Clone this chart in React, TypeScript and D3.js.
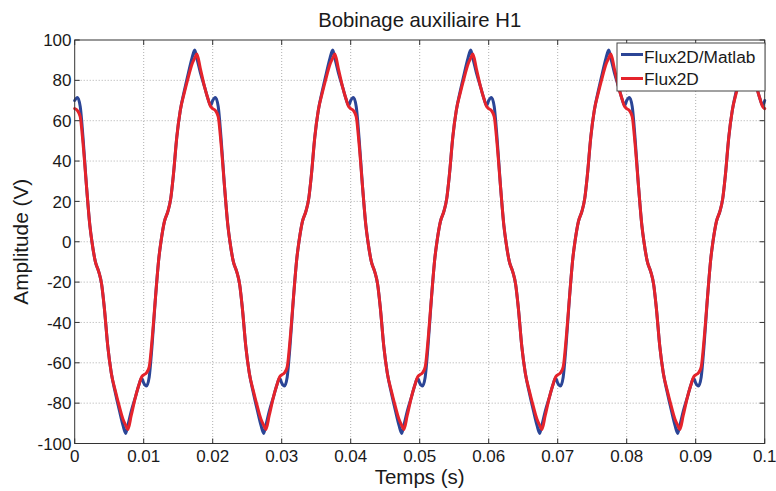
import React from "react";
import * as d3 from "d3";

const W = 776;
const H = 491;
const margin = { left: 74.7, right: 11.3, top: 40, bottom: 47.5 };

const titleText = "Bobinage auxiliaire H1";
const xLabelText = "Temps (s)";
const yLabelText = "Amplitude (V)";
const legendLabels = ["Flux2D/Matlab", "Flux2D"];

const xTicks = [0, 0.01, 0.02, 0.03, 0.04, 0.05, 0.06, 0.07, 0.08, 0.09, 0.1];
const xTickLabels = ["0", "0.01", "0.02", "0.03", "0.04", "0.05", "0.06", "0.07", "0.08", "0.09", "0.1"];
const yTicks = [100, 80, 60, 40, 20, 0, -20, -40, -60, -80, -100];

// time in milliseconds
const timeMs = [
  0, 0.4, 0.8, 1.2, 1.7, 2.2, 2.5, 3, 3.5, 3.9, 4.3, 4.8, 5.3, 5.9, 6.5, 7, 7.4, 7.7, 8.2, 8.8, 9.3, 9.7,
  10, 10.4, 10.8, 11.2, 11.7, 12.2, 12.5, 13, 13.5, 13.9, 14.3, 14.8, 15.3, 15.9, 16.5, 17, 17.4, 17.7, 18.2, 18.8, 19.3, 19.7,
  20, 20.4, 20.8, 21.2, 21.7, 22.2, 22.5, 23, 23.5, 23.9, 24.3, 24.8, 25.3, 25.9, 26.5, 27, 27.4, 27.7, 28.2, 28.8, 29.3, 29.7,
  30, 30.4, 30.8, 31.2, 31.7, 32.2, 32.5, 33, 33.5, 33.9, 34.3, 34.8, 35.3, 35.9, 36.5, 37, 37.4, 37.7, 38.2, 38.8, 39.3, 39.7,
  40, 40.4, 40.8, 41.2, 41.7, 42.2, 42.5, 43, 43.5, 43.9, 44.3, 44.8, 45.3, 45.9, 46.5, 47, 47.4, 47.7, 48.2, 48.8, 49.3, 49.7,
  50, 50.4, 50.8, 51.2, 51.7, 52.2, 52.5, 53, 53.5, 53.9, 54.3, 54.8, 55.3, 55.9, 56.5, 57, 57.4, 57.7, 58.2, 58.8, 59.3, 59.7,
  60, 60.4, 60.8, 61.2, 61.7, 62.2, 62.5, 63, 63.5, 63.9, 64.3, 64.8, 65.3, 65.9, 66.5, 67, 67.4, 67.7, 68.2, 68.8, 69.3, 69.7,
  70, 70.4, 70.8, 71.2, 71.7, 72.2, 72.5, 73, 73.5, 73.9, 74.3, 74.8, 75.3, 75.9, 76.5, 77, 77.4, 77.7, 78.2, 78.8, 79.3, 79.7,
  80, 80.4, 80.8, 81.2, 81.7, 82.2, 82.5, 83, 83.5, 83.9, 84.3, 84.8, 85.3, 85.9, 86.5, 87, 87.4, 87.7, 88.2, 88.8, 89.3, 89.7,
  90, 90.4, 90.8, 91.2, 91.7, 92.2, 92.5, 93, 93.5, 93.9, 94.3, 94.8, 95.3, 95.9, 96.5, 97, 97.4, 97.7, 98.2, 98.8, 99.3, 99.7,
  100,
];

const matlabValues = [
  70, 71.5, 67, 52, 28, 8, 0, -10, -15, -21, -33, -52, -65, -75, -84, -91, -95, -91, -84, -77, -71, -67.5,
  -70, -71.5, -67, -52, -28, -8, 0, 10, 15, 21, 33, 52, 65, 75, 84, 91, 95, 91, 84, 77, 71, 67.5,
  70, 71.5, 67, 52, 28, 8, 0, -10, -15, -21, -33, -52, -65, -75, -84, -91, -95, -91, -84, -77, -71, -67.5,
  -70, -71.5, -67, -52, -28, -8, 0, 10, 15, 21, 33, 52, 65, 75, 84, 91, 95, 91, 84, 77, 71, 67.5,
  70, 71.5, 67, 52, 28, 8, 0, -10, -15, -21, -33, -52, -65, -75, -84, -91, -95, -91, -84, -77, -71, -67.5,
  -70, -71.5, -67, -52, -28, -8, 0, 10, 15, 21, 33, 52, 65, 75, 84, 91, 95, 91, 84, 77, 71, 67.5,
  70, 71.5, 67, 52, 28, 8, 0, -10, -15, -21, -33, -52, -65, -75, -84, -91, -95, -91, -84, -77, -71, -67.5,
  -70, -71.5, -67, -52, -28, -8, 0, 10, 15, 21, 33, 52, 65, 75, 84, 91, 95, 91, 84, 77, 71, 67.5,
  70, 71.5, 67, 52, 28, 8, 0, -10, -15, -21, -33, -52, -65, -75, -84, -91, -95, -91, -84, -77, -71, -67.5,
  -70, -71.5, -67, -52, -28, -8, 0, 10, 15, 21, 33, 52, 65, 75, 84, 91, 95, 91, 84, 77, 71, 67.5,
  70,
];

const flux2dValues = [
  66, 65, 62, 49, 28, 8, 0, -10, -15, -21, -33, -52, -65, -74, -82, -88, -91, -93, -86, -77, -71, -67,
  -66, -65, -62, -49, -28, -8, 0, 10, 15, 21, 33, 52, 65, 74, 82, 88, 91, 93, 86, 77, 71, 67,
  66, 65, 62, 49, 28, 8, 0, -10, -15, -21, -33, -52, -65, -74, -82, -88, -91, -93, -86, -77, -71, -67,
  -66, -65, -62, -49, -28, -8, 0, 10, 15, 21, 33, 52, 65, 74, 82, 88, 91, 93, 86, 77, 71, 67,
  66, 65, 62, 49, 28, 8, 0, -10, -15, -21, -33, -52, -65, -74, -82, -88, -91, -93, -86, -77, -71, -67,
  -66, -65, -62, -49, -28, -8, 0, 10, 15, 21, 33, 52, 65, 74, 82, 88, 91, 93, 86, 77, 71, 67,
  66, 65, 62, 49, 28, 8, 0, -10, -15, -21, -33, -52, -65, -74, -82, -88, -91, -93, -86, -77, -71, -67,
  -66, -65, -62, -49, -28, -8, 0, 10, 15, 21, 33, 52, 65, 74, 82, 88, 91, 93, 86, 77, 71, 67,
  66, 65, 62, 49, 28, 8, 0, -10, -15, -21, -33, -52, -65, -74, -82, -88, -91, -93, -86, -77, -71, -67,
  -66, -65, -62, -49, -28, -8, 0, 10, 15, 21, 33, 52, 65, 74, 82, 88, 91, 93, 86, 77, 71, 67,
  66,
];

const seriesColors = ["#2b4596", "#e5232b"];
const FONT = "'Liberation Sans', Arial, Helvetica, sans-serif";

export default function App() {
  const x = d3.scaleLinear().domain([0, 0.1]).range([margin.left, W - margin.right]);
  const y = d3.scaleLinear().domain([-100, 100]).range([H - margin.bottom, margin.top]);
  const x0 = x(0), x1 = x(0.1), y0 = y(-100), y1 = y(100);

  const line = d3
    .line<number>()
    .x((_, i) => x(timeMs[i] / 1000))
    .y((v) => y(v))
    .curve(d3.curveMonotoneX);

  const series = [matlabValues, flux2dValues];
  const tickLen = 5;

  const lx = 617, ly = 43, lw = 148, lh = 48;

  return (
    <svg
      width={W}
      height={H}
      style={{ position: "absolute", left: 0, top: 0, background: "#fff" }}
      fontFamily={FONT}
    >
      <rect x={0} y={0} width={W} height={H} fill="#fff" />
      {/* grid */}
      <g stroke="#9a9a9a" strokeWidth={0.8} strokeDasharray="1,2">
        {xTicks.slice(1, -1).map((t) => (
          <line key={"gx" + t} x1={x(t)} x2={x(t)} y1={y1} y2={y0} />
        ))}
        {yTicks.slice(1, -1).map((t) => (
          <line key={"gy" + t} x1={x0} x2={x1} y1={y(t)} y2={y(t)} />
        ))}
      </g>
      {/* series */}
      <g fill="none" strokeWidth={3} strokeLinejoin="round" strokeLinecap="round">
        {series.map((s, i) => (
          <path key={i} d={line(s) || ""} stroke={seriesColors[i]} />
        ))}
      </g>
      {/* frame and ticks */}
      <rect x={x0} y={y1} width={x1 - x0} height={y0 - y1} fill="none" stroke="#333" strokeWidth={1} />
      <g stroke="#333" strokeWidth={1}>
        {xTicks.map((t) => (
          <g key={"tx" + t}>
            <line x1={x(t)} x2={x(t)} y1={y0} y2={y0 - tickLen} />
            <line x1={x(t)} x2={x(t)} y1={y1} y2={y1 + tickLen} />
          </g>
        ))}
        {yTicks.map((t) => (
          <g key={"ty" + t}>
            <line x1={x0} x2={x0 + tickLen} y1={y(t)} y2={y(t)} />
            <line x1={x1} x2={x1 - tickLen} y1={y(t)} y2={y(t)} />
          </g>
        ))}
      </g>
      {/* tick labels */}
      <g fontSize={17} fill="#1a1a1a">
        {xTicks.map((t, i) => (
          <text key={"lx" + t} x={x(t)} y={462} textAnchor="middle">
            {xTickLabels[i]}
          </text>
        ))}
        {yTicks.map((t) => (
          <text key={"ly" + t} x={71.5} y={y(t)} dy="0.36em" textAnchor="end">
            {t}
          </text>
        ))}
      </g>
      {/* titles */}
      <text x={(x0 + x1) / 2} y={26.5} textAnchor="middle" fontSize={20.3} fill="#1a1a1a">
        {titleText}
      </text>
      <text x={(x0 + x1) / 2} y={484} textAnchor="middle" fontSize={20.5} fill="#1a1a1a">
        {xLabelText}
      </text>
      <text
        transform={`translate(28, ${(y0 + y1) / 2}) rotate(-90)`}
        textAnchor="middle"
        fontSize={20.8}
        fill="#1a1a1a"
      >
        {yLabelText}
      </text>
      {/* legend */}
      <rect x={lx} y={ly} width={lw} height={lh} fill="#fff" stroke="#444" strokeWidth={1} />
      {legendLabels.map((lab, i) => (
        <g key={lab}>
          <line
            x1={lx + 4}
            x2={lx + 26}
            y1={ly + 11.5 + i * 24}
            y2={ly + 11.5 + i * 24}
            stroke={seriesColors[i]}
            strokeWidth={3}
          />
          <text x={lx + 27} y={ly + 19.5 + i * 22.5} fontSize={17.3} fill="#1a1a1a">
            {lab}
          </text>
        </g>
      ))}
    </svg>
  );
}
